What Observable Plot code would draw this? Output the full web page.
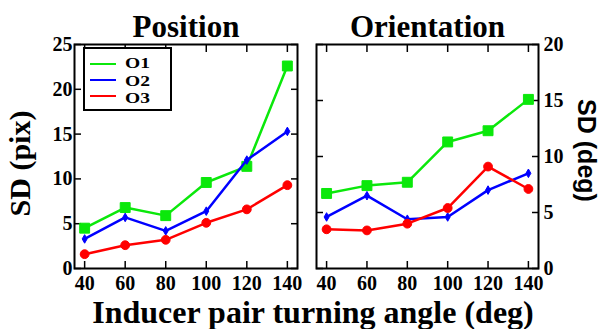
<!DOCTYPE html>
<html>
<head>
<meta charset="utf-8">
<script src="https://cdn.jsdelivr.net/npm/d3@7"></script>
<script src="https://cdn.jsdelivr.net/npm/@observablehq/plot@0.6"></script>
<style>
  html, body { margin: 0; padding: 0; background: #fff; }
  #chart { position: relative; width: 602px; height: 329px; overflow: hidden; background: #fff;
           font-family: "Liberation Serif", "Times New Roman", serif; font-weight: bold; color: #000; }
  #chart svg { position: absolute; top: 0; overflow: visible; background: transparent; }
  .xlabel { position: absolute; left: 0; width: 626px; top: 297px; text-align: center;
            font-size: 32px; line-height: 31px; white-space: nowrap; }
  .legend { position: absolute; left: 83px; top: 47px; width: 85px; height: 60px;
            border: 2px solid #000; background: #fff; }
  .legend .key { position: absolute; left: 5px; width: 26px; height: 2.5px; }
  .legend .name { position: absolute; left: 40px; font-size: 15px; line-height: 17px;
                  transform: scaleX(1.3); transform-origin: left center; }
</style>
</head>
<body>
<div id="chart"></div>
<script>
// Inducer pair turning angle (deg)
const angles = [40, 60, 80, 100, 120, 140];
const series = ["O1", "O2", "O3"];
const colors = ["#0be80b", "#0000ff", "#ff0000"];
const symbols = ["square", "diamond", "circle"];
const dotRadius = [5.6, 2.6, 4.4];

// Position SD (pix)
const positionO1 = [4.5, 6.8, 5.9, 9.6, 11.4, 22.6];
const positionO2 = [3.3, 5.7, 4.2, 6.4, 12.1, 15.3];
const positionO3 = [1.6, 2.6, 3.2, 5.1, 6.6, 9.3];
const positionTicks = [0, 5, 10, 15, 20, 25];

// Orientation SD (deg)
const orientationO1 = [6.7, 7.4, 7.7, 11.3, 12.3, 15.1];
const orientationO2 = [4.6, 6.5, 4.4, 4.6, 7.0, 8.5];
const orientationO3 = [3.5, 3.4, 4.0, 5.4, 9.1, 7.1];
const orientationTicks = [0, 5, 10, 15, 20];

const serif = "Liberation Serif, Times New Roman, serif";
const sans = "Liberation Sans, Arial, sans-serif";
const tickFont = {fontFamily: serif, fontSize: 20, fontWeight: "bold", fill: "#000"};

function panel({values, yTicks, title, yLabel, labelSide, left, width, marginLeft, marginRight}) {
  const rows = series.flatMap((s, i) => angles.map((a, j) => ({angle: a, series: s, value: values[i][j]})));
  const otherSide = labelSide === "left" ? "right" : "left";
  const marks = [
    Plot.axisX(angles, {anchor: "bottom", tickSize: -7, tickPadding: 14, strokeWidth: 1.5, label: null, ...tickFont}),
    Plot.axisX(angles, {anchor: "top", tickSize: -7, strokeWidth: 1.5, label: null, tickFormat: () => ""}),
    Plot.axisY(yTicks, {anchor: labelSide, tickSize: -7, tickPadding: labelSide === "left" ? 9 : 12,
                        strokeWidth: 1.5, label: null, ...tickFont}),
    Plot.axisY(yTicks, {anchor: otherSide, tickSize: -7, strokeWidth: 1.5, label: null, tickFormat: () => ""})
  ];
  series.forEach((s, i) => {
    const d = rows.filter((r) => r.series === s);
    marks.push(Plot.line(d, {x: "angle", y: "value", stroke: colors[i], strokeWidth: 2.5}));
    marks.push(Plot.dot(d, {x: "angle", y: "value", symbol: symbols[i], r: dotRadius[i],
                            fill: colors[i], stroke: colors[i], strokeWidth: 1}));
  });
  marks.push(Plot.frame({stroke: "#000", strokeWidth: 2}));
  marks.push(Plot.text([title], {text: (d) => d, frameAnchor: "top", dy: -8, lineAnchor: "bottom",
                                 textAnchor: "middle",
                                 fontFamily: serif, fontSize: 31, fontWeight: "bold", fill: "#000"}));
  marks.push(labelSide === "left"
    ? Plot.text([yLabel], {text: (d) => d, frameAnchor: "left", textAnchor: "middle", rotate: -90,
                           dx: -54, dy: 7,
                           fontFamily: serif, fontSize: 30, fontWeight: "bold", fill: "#000"})
    : Plot.text([yLabel], {text: (d) => d, frameAnchor: "right", textAnchor: "middle", rotate: 90,
                           dx: 47, dy: -6,
                           fontFamily: sans, fontSize: 25, fontWeight: "bold", fill: "#000"}));
  const svg = Plot.plot({
    width, height: 329,
    marginLeft, marginRight, marginTop: 44, marginBottom: 61,
    style: {background: "transparent", overflow: "visible"},
    x: {domain: [35, 145]},
    y: {domain: [0, d3.max(yTicks)]},
    marks
  });
  svg.style.left = left + "px";
  return svg;
}

const chart = document.getElementById("chart");
chart.append(panel({
  values: [positionO1, positionO2, positionO3], yTicks: positionTicks,
  title: "Position", yLabel: "SD (pix)", labelSide: "left",
  left: 0, width: 310, marginLeft: 74, marginRight: 13
}));
chart.append(panel({
  values: [orientationO1, orientationO2, orientationO3], yTicks: orientationTicks,
  title: "Orientation", yLabel: "SD (deg)", labelSide: "right",
  left: 300, width: 302, marginLeft: 16, marginRight: 64
}));

const xlabel = document.createElement("div");
xlabel.className = "xlabel";
xlabel.textContent = "Inducer pair turning angle (deg)";
chart.append(xlabel);

// Series key for the position panel
const legend = document.createElement("div");
legend.className = "legend";
series.forEach((s, i) => {
  const key = document.createElement("div");
  key.className = "key";
  key.style.top = (13.75 + 16 * i) + "px";
  key.style.background = colors[i];
  const name = document.createElement("div");
  name.className = "name";
  name.style.top = (6.4 + 17.3 * i) + "px";
  name.textContent = s;
  legend.append(key, name);
});
chart.append(legend);
</script>
</body>
</html>
